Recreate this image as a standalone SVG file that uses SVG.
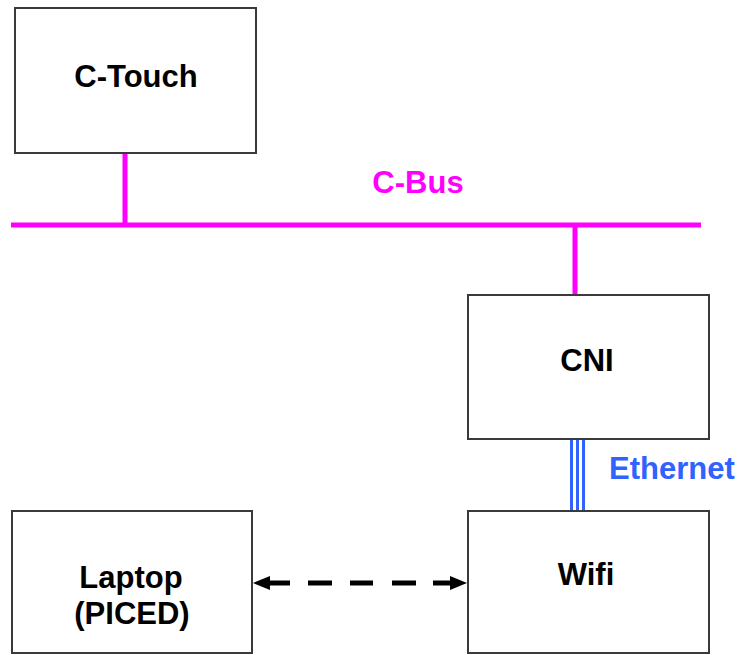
<svg xmlns="http://www.w3.org/2000/svg" width="739" height="655" viewBox="0 0 739 655">
<style>
.box{fill:#fff;stroke:#3a3a3a;stroke-width:2}
.t{font-family:"Liberation Sans",Arial,sans-serif;font-weight:bold;font-size:31px;fill:#000;text-anchor:middle}
.bus{stroke:#ff00ff;stroke-width:5;fill:none}
.eth{stroke:#2f62ff;stroke-width:3;fill:none}
</style>
<defs>
<marker id="ah" markerUnits="userSpaceOnUse" markerWidth="18" markerHeight="16" refX="0" refY="8" orient="auto-start-reverse">
<path d="M0,1 L17,8 L0,15 z" fill="#000"/>
</marker>
</defs>
<rect width="739" height="655" fill="#fff"/>
<g id="connectors">
<line class="bus" x1="11" y1="225" x2="701" y2="225"/>
<line class="bus" x1="125" y1="153" x2="125" y2="225"/>
<line class="bus" x1="575" y1="225" x2="575" y2="295"/>
<line class="eth" x1="571.5" y1="439" x2="571.5" y2="511"/>
<line class="eth" x1="577.5" y1="439" x2="577.5" y2="511"/>
<line class="eth" x1="583.5" y1="439" x2="583.5" y2="511"/>
<line x1="270" y1="583" x2="450" y2="583" stroke="#000" stroke-width="5" stroke-dasharray="20 18 24 18 23 19 24 17 17 100" marker-start="url(#ah)" marker-end="url(#ah)"/>
<text class="t" x="418" y="193" fill="#ff00ff" style="fill:#ff00ff">C-Bus</text>
<text class="t" x="609" y="479" style="fill:#2f62ff;text-anchor:start">Ethernet</text>
</g>
<g id="ctouch">
<rect class="box" x="15" y="8" width="241" height="145"/>
<text class="t" x="136" y="87">C-Touch</text>
</g>
<g id="cni">
<rect class="box" x="468" y="295" width="241" height="144"/>
<text class="t" x="587" y="371">CNI</text>
</g>
<g id="laptop">
<rect class="box" x="12" y="511" width="240" height="142"/>
<text class="t" x="131" y="588">Laptop</text>
<text class="t" x="132" y="624">(PICED)</text>
</g>
<g id="wifi">
<rect class="box" x="468" y="511" width="241" height="142"/>
<text class="t" x="586" y="585">Wifi</text>
</g>
</svg>
